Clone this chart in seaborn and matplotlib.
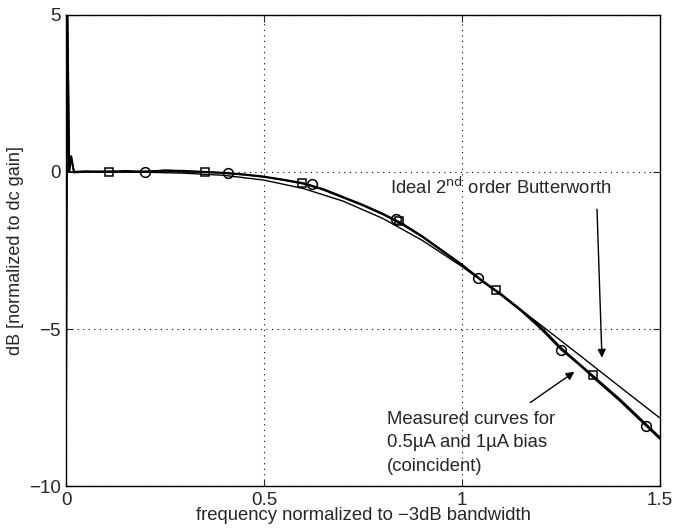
import matplotlib
matplotlib.use("Agg")
import matplotlib.pyplot as plt
import seaborn as sns
import pandas as pd

sns.set_style("ticks")
plt.rcParams['font.family'] = ['Liberation Sans', 'DejaVu Sans']

# measured frequency (normalized) and response in dB
freq = [0.0, 0.003, 0.008, 0.013, 0.02, 0.05, 0.1, 0.15, 0.2, 0.25, 0.3, 0.35, 0.4, 0.45,
        0.5, 0.55, 0.6, 0.65, 0.7, 0.75, 0.8, 0.85, 0.9, 0.95, 1.0, 1.05, 1.1, 1.15,
        1.2, 1.25, 1.3, 1.35, 1.4, 1.45, 1.5]
meas_1uA = [-7.3, 5.5, 0.0, 0.5, 0.0, 0.02, 0.0, 0.03, 0.0, 0.05, 0.03, 0.0, -0.03, -0.08,
            -0.15, -0.25, -0.36, -0.55, -0.8, -1.05, -1.33, -1.65, -2.05, -2.5, -2.95, -3.45,
            -3.9, -4.4, -4.95, -5.6, -6.15, -6.7, -7.25, -7.85, -8.45]
meas_05uA = [-7.2, 5.5, 0.05, 0.45, -0.02, 0.0, 0.02, 0.0, 0.02, 0.03, 0.0, 0.0, -0.04, -0.09,
             -0.16, -0.26, -0.38, -0.57, -0.82, -1.07, -1.35, -1.68, -2.07, -2.52, -2.97, -3.47,
             -3.93, -4.43, -5.0, -5.65, -6.18, -6.75, -7.3, -7.9, -8.5]
# ideal 2nd order Butterworth response
ideal_freq = [0.0, 0.1, 0.2, 0.3, 0.4, 0.5, 0.6, 0.7, 0.8, 0.9, 1.0, 1.1, 1.2, 1.3, 1.4, 1.5]
ideal_db = [0.0, 0.0, -0.01, -0.04, -0.11, -0.26, -0.53, -0.93, -1.48, -2.18, -3.01, -3.92,
            -4.88, -5.86, -6.85, -7.83]

sq_x = [0.109, 0.351, 0.596, 0.84, 1.085, 1.33]
sq_y = [0.0, 0.0, -0.34, -1.56, -3.76, -6.47]
ci_x = [0.2, 0.409, 0.621, 0.833, 1.04, 1.25, 1.465]
ci_y = [0.0, -0.05, -0.4, -1.5, -3.37, -5.67, -8.1]

x_ticks = [0, 0.5, 1, 1.5]
x_tick_labels = ['0', '0.5', '1', '1.5']
y_ticks = [-10, -5, 0, 5]
y_tick_labels = ['\u221210', '\u22125', '0', '5']

fig = plt.figure(figsize=(6.74, 5.29), dpi=100)
ax = fig.add_axes([0.098, 0.081, 0.881, 0.891])

df_a = pd.DataFrame({'f': freq, 'db': meas_1uA})
df_b = pd.DataFrame({'f': freq, 'db': meas_05uA})
df_i = pd.DataFrame({'f': ideal_freq, 'db': ideal_db})

sns.lineplot(data=df_i, x='f', y='db', ax=ax, color='black', lw=1.0, estimator=None, sort=False)
sns.lineplot(data=df_a, x='f', y='db', ax=ax, color='black', lw=1.5, estimator=None, sort=False)
sns.lineplot(data=df_b, x='f', y='db', ax=ax, color='black', lw=1.2, estimator=None, sort=False)

ax.plot(sq_x, sq_y, ls='none', marker='s', ms=6, mfc='none', mec='black', mew=1.1)
ax.plot(ci_x, ci_y, ls='none', marker='o', ms=7, mfc='none', mec='black', mew=1.1)

ax.set_xlim(0, 1.5)
ax.set_ylim(-10, 5)
ax.set_xticks(x_ticks)
ax.set_xticklabels(x_tick_labels)
ax.set_yticks(y_ticks)
ax.set_yticklabels(y_tick_labels)
ax.tick_params(direction='in', top=True, right=True, labelsize=13.5, length=5, width=0.8, pad=4)
for s in ax.spines.values():
    s.set_visible(True)
    s.set_linewidth(1.0)
    s.set_color('black')
ax.grid(True, ls=(0, (1, 4)), color='black', lw=0.8)

ax.set_xlabel('frequency normalized to \u22123dB bandwidth', fontsize=13.3, labelpad=-1)
ax.set_ylabel('dB [normalized to dc gain]', fontsize=13, labelpad=3)

ax.text(0.818, -0.5, 'Ideal 2$^{\\rm nd}$ order Butterworth', fontsize=13.3, va='center', ha='left')
ax.annotate('', xy=(1.354, -6.0), xytext=(1.341, -1.1),
            arrowprops=dict(arrowstyle='-|>', color='black', lw=1.0, mutation_scale=12))
ax.text(0.81, -7.6, 'Measured curves for\n0.5\u00b5A and 1\u00b5A bias\n(coincident)',
        fontsize=13.3, va='top', ha='left', linespacing=1.5)
ax.annotate('', xy=(1.29, -6.31), xytext=(1.167, -7.39),
            arrowprops=dict(arrowstyle='-|>', color='black', lw=1.0, mutation_scale=12))

fig.savefig('out.png', dpi=100)
